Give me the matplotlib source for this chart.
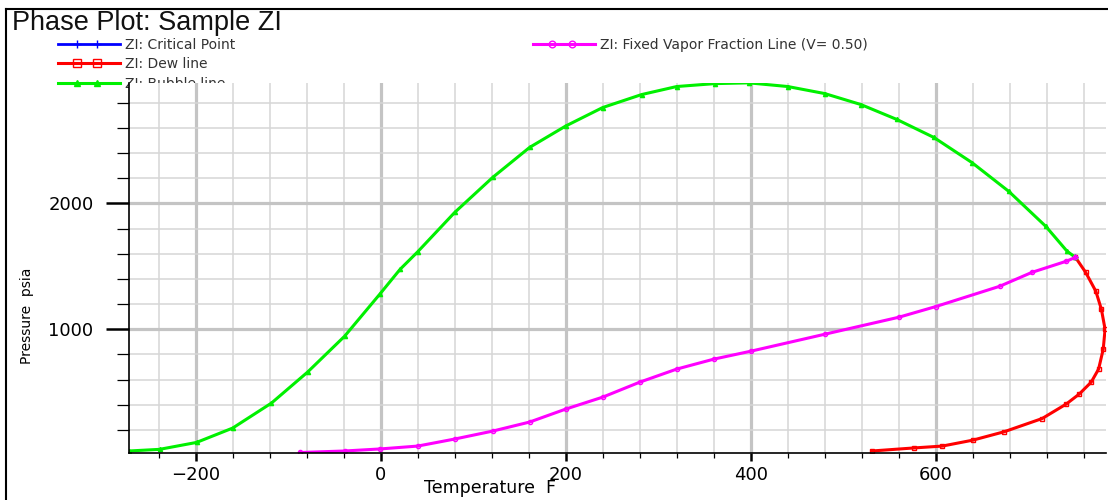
import matplotlib
matplotlib.use("Agg")
import numpy as np
import matplotlib.pyplot as plt
from matplotlib.ticker import MultipleLocator, FixedLocator
from matplotlib.lines import Line2D
from matplotlib.legend_handler import HandlerLine2D

# values
bubble_t = [-272, -239, -199, -160, -118, -79, -39, -1, 21, 40, 80, 121, 161, 200,
            240, 282, 320, 361, 398, 440, 480, 519, 558, 598, 639, 679, 719, 742, 751]
bubble_p = [32, 45, 100, 214, 413, 659, 944, 1278, 1476, 1615, 1928, 2206, 2445, 2615,
            2762, 2865, 2929, 2952, 2958, 2929, 2873, 2786, 2667, 2524, 2325, 2095, 1817, 1619, 1571]

dew_t = [531, 576, 607, 640, 674, 715, 741, 755, 768, 776, 781, 783, 779, 773, 762, 751]
dew_p = [32, 56, 71, 118, 185, 290, 405, 484, 579, 683, 841, 1000, 1159, 1302, 1452, 1571]

vf_t = [-87, -39, -1, 40, 80, 121, 161, 200, 240, 280, 320, 360, 400, 480, 560, 600,
        669, 704, 741, 751]
vf_p = [20, 32, 48, 71, 127, 190, 262, 365, 460, 579, 683, 762, 825, 960, 1095, 1180,
        1341, 1452, 1540, 1571]

crit_t = [751]
crit_p = [1571]

x_major = [-200, 0, 200, 400, 600]
y_major = [1000, 2000]


class MidMarkers(HandlerLine2D):
    # full-length line, two markers at about one and two thirds
    def get_xdata(self, legend, xdescent, ydescent, width, height, fontsize):
        x = np.array([0, 0.31, 0.63, 1.0]) * width - xdescent
        return x, x

    def create_artists(self, *args, **kwargs):
        arts = super().create_artists(*args, **kwargs)
        for a in arts:
            a.set_markevery([1, 2])
        return arts


W, H = 1108, 500
fig = plt.figure(figsize=(W / 100, H / 100), dpi=100)
fig.patch.set_facecolor("white")
ax = fig.add_axes([129 / W, 1 - 453 / H, (1106 - 129) / W, (453 - 83) / H])

crit, = ax.plot(crit_t, crit_p, color="blue", marker="+", ms=4, lw=2, label="ZI: Critical Point")
dew, = ax.plot(dew_t, dew_p, color="red", marker="s", ms=3.5, mfc="none", mew=1, lw=2.2,
               label="ZI: Dew line")
bub, = ax.plot(bubble_t, bubble_p, color="#00f000", marker="^", ms=3, lw=2.2,
               label="ZI: Bubble line")
vf, = ax.plot(vf_t, vf_p, color="magenta", marker="o", ms=3, mfc="none", lw=2.2,
              label="ZI: Fixed Vapor Fraction Line (V= 0.50)")

ax.set_xlim(-272, 784)
ax.set_ylim(16, 2957)

ax.xaxis.set_major_locator(FixedLocator(x_major))
ax.xaxis.set_minor_locator(MultipleLocator(40))
ax.yaxis.set_major_locator(FixedLocator(y_major))
ax.yaxis.set_minor_locator(MultipleLocator(200))

ax.set_axisbelow(True)
ax.grid(which="minor", color="#d6d6d6", lw=1.1)
ax.grid(which="major", color="#c4c4c4", lw=2.3)

for s in ["top", "right"]:
    ax.spines[s].set_visible(False)
for s in ["left", "bottom"]:
    ax.spines[s].set_linewidth(1.2)

ax.tick_params(axis="x", which="major", length=6, width=1.8, pad=3, labelsize=13)
ax.tick_params(axis="x", which="minor", length=3.3, width=0.9)
ax.tick_params(axis="y", which="major", length=16.5, width=1.8, pad=9, labelsize=13)
ax.tick_params(axis="y", which="minor", length=8.6, width=0.9)
ax.xaxis.set_major_formatter(plt.FuncFormatter(lambda v, p: f"{v:.0f}".replace("-", "\u2212")))

fig.text(490 / W, 1 - 488 / H, "Temperature  F", ha="center", va="center", fontsize=12.5)
fig.text(27 / W, 1 - 316 / H, "Pressure  psia", ha="center", va="center",
         rotation=90, fontsize=10)
fig.text(12 / W, 1 - 23 / H, "Phase Plot: Sample ZI", ha="left", va="center",
         fontsize=19.5, family="Liberation Sans", color="#111111")

hm = {h: MidMarkers(numpoints=2) for h in [crit, dew, bub, vf]}
leg_kw = dict(loc="upper left", frameon=False, fontsize=10, handlelength=4.45,
              handletextpad=0.36, borderpad=0, borderaxespad=0, markerscale=1.6,
              handler_map=hm, labelcolor="#333333")
leg1 = fig.legend(handles=[crit, dew, bub], bbox_to_anchor=(58 / W, 1 - 38 / H),
                  labelspacing=0.38, **leg_kw)
leg1.set_zorder(-1)
leg2 = fig.legend(handles=[vf], bbox_to_anchor=(533 / W, 1 - 38 / H), **leg_kw)

# outer frame of the window
fig.add_artist(Line2D([6 / W, 6 / W], [0, 1 - 9 / H], color="black", lw=1.5,
                      transform=fig.transFigure))
fig.add_artist(Line2D([6 / W, 1], [1 - 9 / H, 1 - 9 / H], color="black", lw=1.5,
                      transform=fig.transFigure))

fig.savefig("out.png", dpi=100)
